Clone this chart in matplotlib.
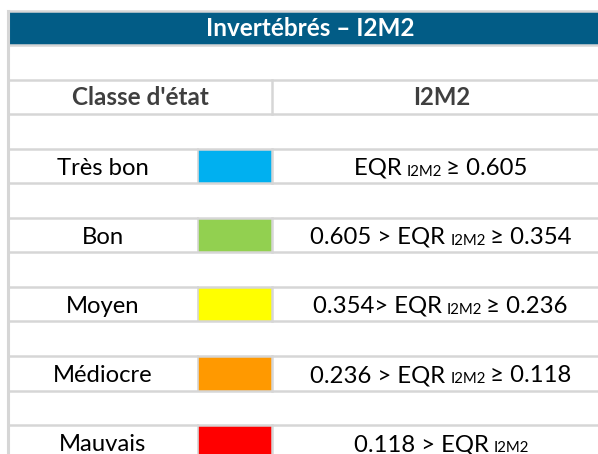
import matplotlib
matplotlib.use("Agg")
import matplotlib.pyplot as plt
from matplotlib.patches import Rectangle

title = "Invertébrés – I2M2"
col_headers = ["Classe d'état", "I2M2"]
classes = ["Très bon", "Bon", "Moyen", "Médiocre", "Mauvais"]
class_colors = ["#00B0F0", "#92D050", "#FFFF00", "#FF9900", "#FF0000"]
# EQR expressions: (prefix, subscript, suffix)
exprs = [
    ("EQR ", "I2M2", " ≥ 0.605"),
    ("0.605 > EQR ", "I2M2", " ≥ 0.354"),
    ("0.354> EQR ", "I2M2", " ≥ 0.236"),
    ("0.236 > EQR ", "I2M2", " ≥ 0.118"),
    ("0.118 > EQR ", "I2M2", ""),
]

FONT = "Lato"
W, H = 598, 454
fig = plt.figure(figsize=(W / 100, H / 100), dpi=100)
ax = fig.add_axes([0, 0, 1, 1])
ax.set_xlim(0, W)
ax.set_ylim(H, 0)
ax.axis("off")

grid = "#D6D6D6"
x_left, x_right = 8, 612
x_box0, x_box1 = 197.5, 272
y0, rh = 10.5, 34.55
header_blue = "#025C86"

def ry(i):
    return y0 + i * rh

# header
ax.add_patch(Rectangle((x_left, ry(0)), x_right - x_left, rh, facecolor=header_blue,
                       edgecolor="none", zorder=1))
ax.plot([x_left, x_right], [ry(0), ry(0)], color=grid, lw=1.8, zorder=3)
ax.text((x_left + x_right) / 2, ry(0.5) + 1, title, color="white", fontsize=17.5,
        fontweight="bold", family=FONT, ha="center", va="center", zorder=4)

# horizontal grid lines
for i in range(1, 14):
    ax.plot([x_left, x_right], [ry(i), ry(i)], color=grid, lw=1.8, zorder=3)
# left border
ax.plot([x_left, x_left], [ry(0), H + 5], color=grid, lw=2.2, zorder=3)

# column header row
ax.plot([x_box1, x_box1], [ry(2), ry(3)], color=grid, lw=1.8, zorder=3)
ax.text((x_left + x_box1) / 2, ry(2.5) + 1, col_headers[0], color="#3F3F3F", fontsize=17.5,
        fontweight="bold", family=FONT, ha="center", va="center", zorder=4)
ax.text((x_box1 + x_right) / 2, ry(2.5) + 1, col_headers[1], color="#3F3F3F", fontsize=17.2,
        fontweight="bold", family=FONT, ha="center", va="center", zorder=4)

fig.canvas.draw()
renderer = fig.canvas.get_renderer()

def width(t):
    bb = t.get_window_extent(renderer=renderer)
    return bb.width

body_fs = 17.2
sub_fs = 10.8
for k, (name, col, ex) in enumerate(zip(classes, class_colors, exprs)):
    r = 4 + 2 * k
    ax.add_patch(Rectangle((x_box0, ry(r)), x_box1 - x_box0, rh, facecolor=col,
                           edgecolor="none", zorder=2))
    ax.plot([x_box0, x_box0], [ry(r), ry(r + 1)], color=grid, lw=1.2, zorder=3)
    ax.plot([x_box1, x_box1], [ry(r), ry(r + 1)], color=grid, lw=1.8, zorder=3)
    ybase = ry(r) + 26
    ax.text((x_left + x_box0) / 2, ybase, name, color="black", fontsize=body_fs,
            family=FONT, ha="center", va="baseline", zorder=4)
    # expression pieces
    pre, sub, suf = ex
    t1 = ax.text(0, ybase, pre, fontsize=body_fs, family=FONT, ha="left", va="baseline", zorder=4)
    t2 = ax.text(0, ybase + 1, sub, fontsize=sub_fs, family=FONT, ha="left", va="baseline", zorder=4)
    t3 = ax.text(0, ybase, suf, fontsize=body_fs, family=FONT, ha="left", va="baseline", zorder=4)
    w1, w2, w3 = width(t1), width(t2), width(t3) if suf else 0
    total = w1 + w2 + w3
    xs = (x_box1 + x_right) / 2 - total / 2
    t1.set_x(xs)
    t2.set_x(xs + w1 - 1)
    t3.set_x(xs + w1 + w2 - 3)

fig.savefig("out.png", dpi=100)
